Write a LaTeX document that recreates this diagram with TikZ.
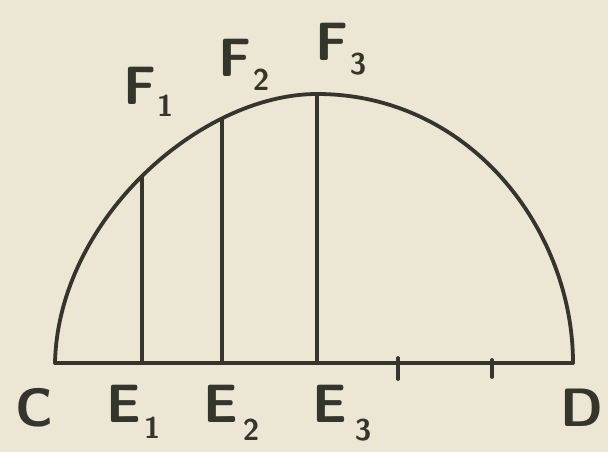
\documentclass[tikz,border=0pt]{standalone}
\usepackage{fontspec}
\begin{document}
\begin{tikzpicture}[x=1pt,y=-1pt,
  ink/.style={draw=inkc,line width=3.8pt,line cap=round,line join=round},
  lbl/.style={text=inkc,font=\fontsize{54}{56}\selectfont\sffamily\bfseries,inner sep=0pt,anchor=center},
  sub/.style={text=inkc,font=\fontsize{30}{32}\selectfont\sffamily\bfseries,inner sep=0pt,anchor=center}]
\definecolor{inkc}{HTML}{35352C}
\definecolor{paper}{HTML}{ECE6D4}
\fill[paper] (0,0) rectangle (608,452);
\useasboundingbox (0,0) rectangle (608,452);
\coordinate (C) at (55,363);
\coordinate (D) at (573,363);
\coordinate (Top) at (317,94);
\coordinate (E1) at (142,363); \coordinate (F1) at (142,177);
\coordinate (E2) at (222,363); \coordinate (F2) at (222,119);
\coordinate (E3) at (317,363); \coordinate (F3) at (317,94);
\coordinate (T1) at (398,363); \coordinate (T2) at (492,363);
% diameter
\draw[ink] (C) -- (D);
% semicircle (hand drawn)
\draw[ink] (C) .. controls (58,220) and (200,94) .. (Top)
               .. controls (470,94) and (573,230) .. (D);
% ordinates
\draw[ink] (E1) -- (F1);
\draw[ink] (E2) -- (F2);
\draw[ink] (E3) -- (F3);
% ticks
\draw[ink] ([yshift=-16pt]T1) -- ([yshift=5pt]T1);
\draw[ink] ([yshift=-14pt]T2) -- ([yshift=3pt]T2);
% labels
\node[lbl] (lC) at (34,408) {C};
\node[lbl] (lE1) at (124,404) {E};
\node[sub] (sE1) at (152,428) {1};
\node[lbl] (lE2) at (221,404) {E};
\node[sub] (sE2) at (251,430) {2};
\node[lbl] (lE3) at (330,404) {E};
\node[sub] (sE3) at (363,430) {3};
\node[lbl] (lD) at (582,408) {D};
\node[lbl] (lF1) at (140,86) {F};
\node[sub] (sF1) at (165,106) {1};
\node[lbl] (lF2) at (235,58) {F};
\node[sub] (sF2) at (261,80) {2};
\node[lbl] (lF3) at (332,42) {F};
\node[sub] (sF3) at (358,64) {3};
\end{tikzpicture}
\end{document}
